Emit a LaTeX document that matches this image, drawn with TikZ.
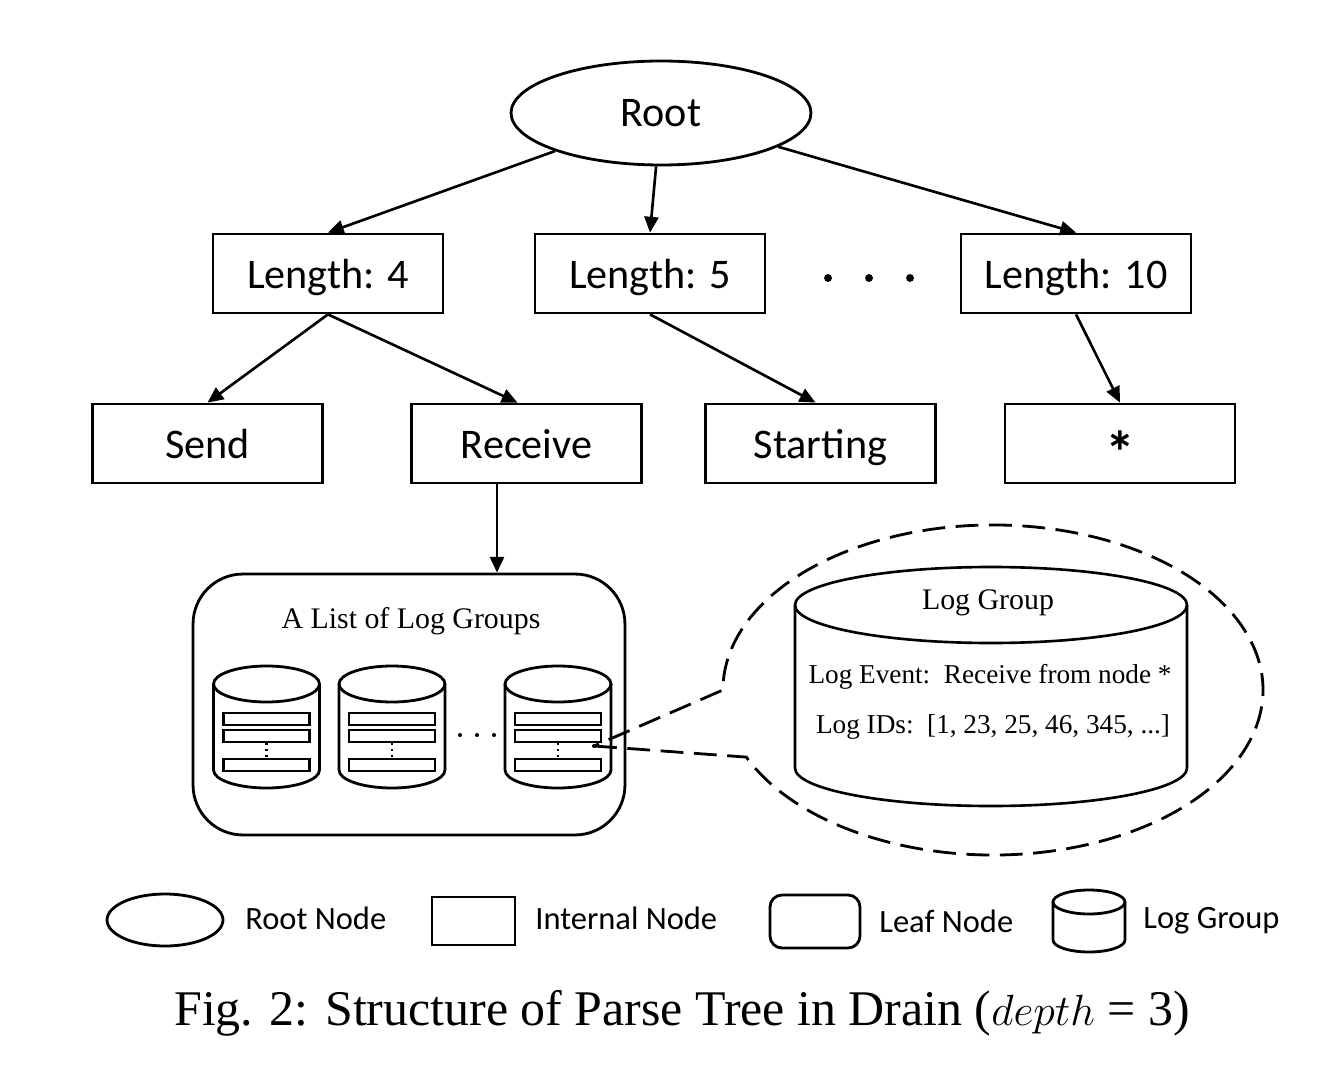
\documentclass[tikz,border=0pt]{standalone}
\usepackage{fontspec}
\setmainfont{Carlito}
\newfontfamily\serf{Liberation Serif}
\usetikzlibrary{arrows.meta,shapes.geometric}
\begin{document}
\begin{tikzpicture}[x=0.02cm,y=-0.02cm,
  every node/.style={font=\fontsize{24}{28}\selectfont},
  lw/.style={line width=1.6pt},
  inode/.style={draw, line width=1.6pt, minimum width=4.6cm, minimum height=1.58cm, inner sep=0pt, text height=19.5pt, text depth=2.5pt},
  arr/.style={line width=1.5pt, -{Triangle[length=9pt,width=8pt]}},
  bar/.style={line width=1.4pt},
  dot/.style={fill=black, circle, inner sep=0pt, minimum size=#1},
  lgtext/.style={font=\serf\fontsize{17}{20}\selectfont},
  lgsmall/.style={font=\serf\fontsize{15.5}{18}\selectfont},
  legtext/.style={font=\fontsize{18.5}{22}\selectfont, anchor=west, inner sep=0pt},
  smallcyl/.pic={
    \draw[lw] (-53,684) -- (-53,770) arc[start angle=180,end angle=0,x radius=53,y radius=18] -- (53,684);
    \draw[lw] (0,684) ellipse[x radius=53, y radius=18];
    \draw[bar] (-43,713) rectangle (43,725);
    \draw[bar] (-43,730) rectangle (43,742);
    \draw[bar] (-43,759) rectangle (43,771);
    \draw[line width=1.3pt, dotted] (0,743) -- (0,758);
  }
]
\useasboundingbox (0,0) rectangle (1326,1088);

% tree
\node[draw, ellipse, lw, minimum width=6cm, minimum height=2.08cm, inner sep=0pt] (root) at (661,113) {Root};
\node[inode] (l4) at (328,273.5) {Length: 4};
\node[inode] (l5) at (650,273.5) {Length: 5};
\node[inode] (l10) at (1076,273.5) {Length: 10};
\node[dot=4.5pt] (d1) at (828,278) {};
\node[dot=4.5pt] (d2) at (869,278) {};
\node[dot=4.5pt] (d3) at (910,278) {};

\node[inode] (send) at (207.5,443.5) {Send};
\node[inode] (recv) at (526.5,443.5) {Receive};
\node[inode] (start) at (820.5,443.5) {Starting};
\node[draw, line width=1.6pt, minimum width=4.6cm, minimum height=1.58cm, inner sep=0pt] (star) at (1120,443.5) {\smash{\raisebox{-17pt}{\fontsize{34}{34}\selectfont\bfseries *}}};

\draw[arr] (root) -- (l4.north);
\draw[arr] (root) -- (l5.north);
\draw[arr] (root) -- (l10.north);
\draw[arr] (l4.south) -- (send.north);
\draw[arr] (l4.south) -- ([xshift=-0.18cm]recv.north);
\draw[arr] (l5.south) -- ([xshift=-0.1cm]start.north);
\draw[arr] (l10.south) -- (star.north);

% list of log groups
\node[draw, lw, rounded corners=1cm, minimum width=8.64cm, minimum height=5.22cm, inner sep=0pt] (list) at (409,704.5) {};
\coordinate (rx) at (497,0);
\draw[arr] (recv.south -| rx) -- (list.north -| rx);
\node[lgtext] (listtitle) at (411,621) {A List of Log Groups};
\pic at (266.5,0) {smallcyl};
\pic at (392,0) {smallcyl};
\pic at (558,0) {smallcyl};
\node[dot=2.3pt] (e1) at (460,735) {};
\node[dot=2.3pt] (e2) at (477,735) {};
\node[dot=2.3pt] (e3) at (494,735) {};

% callout
\coordinate (tip) at (594,746);
\node[dot=2.3pt] (tipdot) at (tip) {};
\draw[lw, dash pattern=on 13pt off 6pt] (tip) -- (746.3,757.1)
  arc[start angle=156, end angle=-180, x radius=270, y radius=165] -- cycle;

% big log group cylinder
\draw[line width=1.5pt] (795,605) -- (795,768) arc[start angle=180,end angle=0,x radius=196,y radius=38] -- (1187,605);
\draw[line width=1.5pt] (991,605) ellipse[x radius=196, y radius=38];
\node[lgtext] (lgtitle) at (988,603) {Log Group};
\node[lgsmall] (lgev) at (990,677) {Log Event:\ \ Receive from node *};
\node[lgsmall] (lgid) at (993,727) {Log IDs:\ \ [1, 23, 25, 46, 345, ...]};

% legend
\node[draw, ellipse, lw, minimum width=2.32cm, minimum height=1.04cm, inner sep=0pt] (legroot) at (165,920) {};
\node[legtext] (legroott) at (245,918) {Root Node};
\node[draw, lw, minimum width=1.66cm, minimum height=0.96cm, inner sep=0pt] (legint) at (473.5,921) {};
\node[legtext] (leginternal) at (535,918) {Internal Node};
\node[draw, lw, rounded corners=0.24cm, minimum width=1.8cm, minimum height=1.06cm, inner sep=0pt] (legleaf) at (815,921.5) {};
\node[legtext] (legleaft) at (879,921) {Leaf Node};
\draw[lw] (1053,902) -- (1053,940) arc[start angle=180,end angle=0,x radius=36,y radius=12] -- (1125,902);
\draw[lw] (1089,902) ellipse[x radius=36, y radius=12];
\node[legtext] (leglg) at (1143,921) {Log Group};

% caption
\node[font=\serf\fontsize{28.4}{32}\selectfont] (caption) at (682,1013) {Fig. 2: Structure of Parse Tree in Drain ($depth$ = 3)};
\end{tikzpicture}
\end{document}
